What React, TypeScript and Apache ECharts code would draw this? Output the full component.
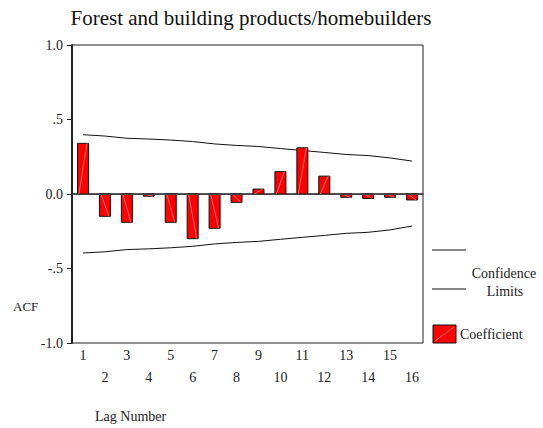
import React, { useEffect, useRef } from "react";
import * as echarts from "echarts";

const lags = ["1","2","3","4","5","6","7","8","9","10","11","12","13","14","15","16"];
const acf = [0.34,-0.15,-0.19,-0.015,-0.19,-0.30,-0.23,-0.056,0.033,0.15,0.31,0.12,-0.022,-0.03,-0.022,-0.04];
const upperLimit = [0.398,0.389,0.374,0.369,0.362,0.352,0.336,0.326,0.319,0.305,0.292,0.279,0.265,0.258,0.242,0.221];
const lowerLimit = [-0.396,-0.388,-0.373,-0.368,-0.361,-0.351,-0.335,-0.325,-0.318,-0.304,-0.291,-0.278,-0.264,-0.257,-0.241,-0.215];
const yTickLabels: Record<string, string> = { "1": "1.0", "0.5": ".5", "0": "0.0", "-0.5": "-.5", "-1": "-1.0" };

const FONT = "'Liberation Serif', 'Times New Roman', serif";

export default function App() {
  const ref = useRef<HTMLDivElement>(null);
  useEffect(() => {
    document.body.style.margin = "0";
    if (!ref.current) return;
    const chart = echarts.init(ref.current, null, { renderer: "svg" });
    chart.setOption({
      animation: false,
      backgroundColor: "#fff",
      grid: { left: 72, right: 120, top: 45, bottom: 85, show: true, borderColor: "#222", borderWidth: 1, backgroundColor: "transparent" },
      xAxis: {
        type: "category",
        data: lags,
        boundaryGap: true,
        axisLine: { lineStyle: { color: "#222", width: 1.5 } },
        axisTick: { alignWithLabel: true, length: 4, lineStyle: { color: "#222" } },
        axisLabel: {
          interval: 0,
          margin: 1,
          fontFamily: FONT,
          fontSize: 14,
          color: "#222",
          lineHeight: 22,
          formatter: (v: string) => (Number(v) % 2 === 0 ? "\n" + v : v),
        },
        splitLine: { show: false },
      },
      yAxis: {
        type: "value",
        min: -1,
        max: 1,
        interval: 0.5,
        axisLine: { show: true, lineStyle: { color: "#222", width: 2 } },
        axisTick: { show: true, length: 5, lineStyle: { color: "#222" } },
        axisLabel: {
          margin: 9,
          fontFamily: FONT,
          fontSize: 14,
          color: "#222",
          formatter: (v: number) => yTickLabels[String(v)] ?? String(v),
        },
        splitLine: { show: false },
      },
      series: [
        {
          type: "custom",
          data: acf.map((v, i) => [i, v]),
          encode: { x: 0, y: 1 },
          renderItem: (params: any, api: any) => {
            const i = api.value(0);
            const v = api.value(1);
            const top = api.coord([i, v]);
            const base = api.coord([i, 0]);
            const w = 11;
            const x0 = top[0] - w / 2;
            const y0 = Math.min(top[1], base[1]);
            const h = Math.abs(top[1] - base[1]);
            return {
              type: "group",
              children: [
                { type: "rect", shape: { x: x0, y: y0, width: w, height: h }, style: { fill: "#ff0000", stroke: "#111", lineWidth: 1 } },
                { type: "line", shape: { x1: x0 + 1.5, y1: base[1], x2: x0 + w - 1.5, y2: top[1] }, style: { stroke: "#ff9a9a", lineWidth: 0.7 } },
              ],
            };
          },
          markLine: {
            silent: true,
            symbol: "none",
            label: { show: false },
            lineStyle: { color: "#444", type: "solid", width: 1.2 },
            data: [{ yAxis: 0 }],
          },
          z: 3,
        },
        {
          type: "line",
          data: upperLimit,
          symbol: "none",
          lineStyle: { color: "#111", width: 1 },
          z: 2,
        },
        {
          type: "line",
          data: lowerLimit,
          symbol: "none",
          lineStyle: { color: "#111", width: 1 },
          z: 2,
        },
      ],
      graphic: [
        { type: "text", x: 251, y: 18, style: { text: "Forest and building products/homebuilders", fontFamily: FONT, fontSize: 21, fill: "#111", align: "center", verticalAlign: "middle" } },
        { type: "text", x: 13, y: 306, style: { text: "ACF", fontFamily: FONT, fontSize: 13, fill: "#222", verticalAlign: "middle" } },
        { type: "text", x: 95, y: 416, style: { text: "Lag Number", fontFamily: FONT, fontSize: 14, fill: "#222", verticalAlign: "middle" } },
        { type: "line", shape: { x1: 432, y1: 250, x2: 466, y2: 250 }, style: { stroke: "#111", lineWidth: 1 } },
        { type: "line", shape: { x1: 432, y1: 289, x2: 466, y2: 289 }, style: { stroke: "#111", lineWidth: 1 } },
        { type: "text", x: 504, y: 273, style: { text: "Confidence", fontFamily: FONT, fontSize: 14, fill: "#222", align: "center", verticalAlign: "middle" } },
        { type: "text", x: 505, y: 291, style: { text: "Limits", fontFamily: FONT, fontSize: 14, fill: "#222", align: "center", verticalAlign: "middle" } },
        { type: "rect", shape: { x: 433, y: 325, width: 23, height: 18 }, style: { fill: "#ff0000", stroke: "#111", lineWidth: 1 } },
        { type: "line", shape: { x1: 435, y1: 341, x2: 454, y2: 327 }, style: { stroke: "#ff9a9a", lineWidth: 0.7 } },
        { type: "text", x: 460, y: 334, style: { text: "Coefficient", fontFamily: FONT, fontSize: 14, fill: "#222", verticalAlign: "middle" } },
      ],
    });
    return () => chart.dispose();
  }, []);
  return <div ref={ref} style={{ width: 543, height: 428 }} />;
}
